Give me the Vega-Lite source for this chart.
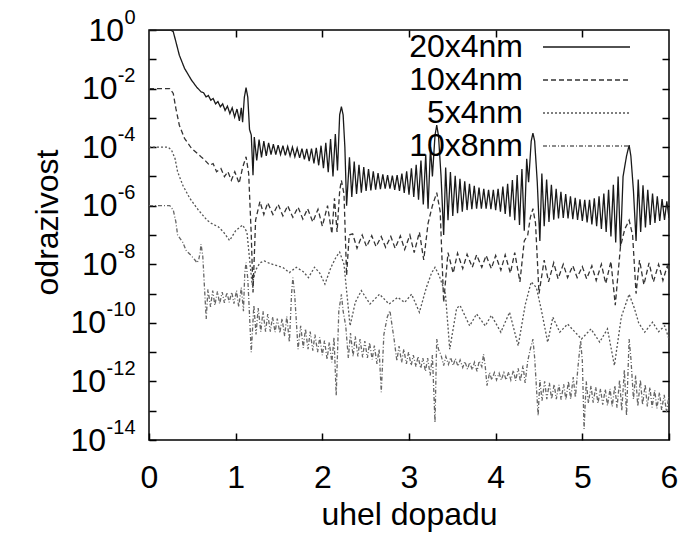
{
"$schema":"https://vega.github.io/schema/vega-lite/v6.json",
"width":520,"height":410,
"autosize":{"type":"none"},
"padding":{"left":149,"top":30,"right":20,"bottom":103},
"config":{"font":"Liberation Sans","view":{"stroke":"#000","strokeWidth":1.5},
 "legend":{"orient":"none","legendX":254,"legendY":1,"labelFontSize":32,"labelColor":"#000","labelAlign":"right","labelOffset":-79.5,"symbolType":"M-2.9,0H2.9","symbolSize":900,"symbolStrokeWidth":1.5,"symbolOffset":167.5,"rowPadding":1,"padding":0,"labelLimit":400}},
"data":{"values":[
{"s":"20x4nm","x":0,"y":1},{"s":"20x4nm","x":0.25,"y":1},{"s":"20x4nm","x":0.28,"y":0.87},{"s":"20x4nm","x":0.31,"y":0.4},{"s":"20x4nm","x":0.35,"y":0.138},{"s":"20x4nm","x":0.41,"y":0.049},{"s":"20x4nm","x":0.49,"y":0.0195},{"s":"20x4nm","x":0.55,"y":0.0112},{"s":"20x4nm","x":0.6,"y":7.8e-3},
{"s":"20x4nm","x":0.63,"y":7.2e-3},{"s":"20x4nm","x":0.658,"y":5.2e-3},{"s":"20x4nm","x":0.685,"y":5.8e-3},{"s":"20x4nm","x":0.713,"y":4.0e-3},{"s":"20x4nm","x":0.74,"y":4.6e-3},{"s":"20x4nm","x":0.768,"y":3.0e-3},{"s":"20x4nm","x":0.795,"y":3.6e-3},{"s":"20x4nm","x":0.823,"y":2.4e-3},{"s":"20x4nm","x":0.85,"y":3.0e-3},{"s":"20x4nm","x":0.878,"y":1.8e-3},{"s":"20x4nm","x":0.905,"y":2.5e-3},{"s":"20x4nm","x":0.933,"y":1.4e-3},{"s":"20x4nm","x":0.96,"y":2.2e-3},{"s":"20x4nm","x":0.988,"y":1.07e-3},{"s":"20x4nm","x":1.015,"y":2.0e-3},{"s":"20x4nm","x":1.043,"y":7.9e-4},{"s":"20x4nm","x":1.065,"y":2.2e-3},{"s":"20x4nm","x":1.08,"y":7.1e-4},{"s":"20x4nm","x":1.1,"y":5e-3},{"s":"20x4nm","x":1.12,"y":1.07e-2},{"s":"20x4nm","x":1.14,"y":5e-3},{"s":"20x4nm","x":1.16,"y":4e-4},{"s":"20x4nm","x":1.18,"y":2.6e-4},{"s":"20x4nm","x":1.2,"y":1.1e-5},
{"s":"20x4nm","x":1.215,"y":2.2e-4},{"s":"20x4nm","x":1.243,"y":3.5e-5},{"s":"20x4nm","x":1.27,"y":1.8e-4},{"s":"20x4nm","x":1.298,"y":4.5e-5},{"s":"20x4nm","x":1.325,"y":1.6e-4},{"s":"20x4nm","x":1.353,"y":5.0e-5},{"s":"20x4nm","x":1.38,"y":1.4e-4},{"s":"20x4nm","x":1.408,"y":5.6e-5},{"s":"20x4nm","x":1.435,"y":1.26e-4},{"s":"20x4nm","x":1.463,"y":5.6e-5},{"s":"20x4nm","x":1.49,"y":1.17e-4},{"s":"20x4nm","x":1.518,"y":5.6e-5},{"s":"20x4nm","x":1.545,"y":1.12e-4},{"s":"20x4nm","x":1.573,"y":5.2e-5},{"s":"20x4nm","x":1.6,"y":1.05e-4},{"s":"20x4nm","x":1.628,"y":5.0e-5},{"s":"20x4nm","x":1.655,"y":1.0e-4},{"s":"20x4nm","x":1.683,"y":4.7e-5},{"s":"20x4nm","x":1.71,"y":9.3e-5},{"s":"20x4nm","x":1.738,"y":4.3e-5},{"s":"20x4nm","x":1.765,"y":8.9e-5},{"s":"20x4nm","x":1.793,"y":3.8e-5},{"s":"20x4nm","x":1.82,"y":8.7e-5},{"s":"20x4nm","x":1.848,"y":3.3e-5},{"s":"20x4nm","x":1.875,"y":8.9e-5},{"s":"20x4nm","x":1.903,"y":2.8e-5},{"s":"20x4nm","x":1.93,"y":9.5e-5},{"s":"20x4nm","x":1.958,"y":2.4e-5},{"s":"20x4nm","x":1.985,"y":1.12e-4},{"s":"20x4nm","x":2.013,"y":1.9e-5},{"s":"20x4nm","x":2.04,"y":1.4e-4},{"s":"20x4nm","x":2.068,"y":1.4e-5},{"s":"20x4nm","x":2.095,"y":1.9e-4},{"s":"20x4nm","x":2.123,"y":1.0e-5},{"s":"20x4nm","x":2.15,"y":2.8e-4},{"s":"20x4nm","x":2.175,"y":1.6e-5},{"s":"20x4nm","x":2.2,"y":1.26e-3},{"s":"20x4nm","x":2.22,"y":2.4e-3},{"s":"20x4nm","x":2.24,"y":1.26e-3},{"s":"20x4nm","x":2.26,"y":1e-4},{"s":"20x4nm","x":2.28,"y":1e-6},
{"s":"20x4nm","x":2.313,"y":4.5e-5},{"s":"20x4nm","x":2.34,"y":2e-6},{"s":"20x4nm","x":2.368,"y":3.2e-5},{"s":"20x4nm","x":2.395,"y":2.5e-6},{"s":"20x4nm","x":2.423,"y":2.5e-5},{"s":"20x4nm","x":2.45,"y":2.8e-6},{"s":"20x4nm","x":2.478,"y":2.1e-5},{"s":"20x4nm","x":2.505,"y":3.2e-6},{"s":"20x4nm","x":2.533,"y":1.8e-5},{"s":"20x4nm","x":2.56,"y":3.3e-6},{"s":"20x4nm","x":2.588,"y":1.5e-5},{"s":"20x4nm","x":2.615,"y":3.5e-6},{"s":"20x4nm","x":2.643,"y":1.3e-5},{"s":"20x4nm","x":2.67,"y":3.7e-6},{"s":"20x4nm","x":2.698,"y":1.17e-5},{"s":"20x4nm","x":2.725,"y":3.8e-6},{"s":"20x4nm","x":2.753,"y":1.1e-5},{"s":"20x4nm","x":2.78,"y":3.8e-6},{"s":"20x4nm","x":2.808,"y":1.07e-5},{"s":"20x4nm","x":2.835,"y":3.5e-6},{"s":"20x4nm","x":2.863,"y":1.12e-5},{"s":"20x4nm","x":2.89,"y":3.2e-6},{"s":"20x4nm","x":2.918,"y":1.26e-5},{"s":"20x4nm","x":2.945,"y":2.75e-6},{"s":"20x4nm","x":2.973,"y":1.5e-5},{"s":"20x4nm","x":3.0,"y":2.4e-6},{"s":"20x4nm","x":3.028,"y":1.9e-5},{"s":"20x4nm","x":3.055,"y":2e-6},{"s":"20x4nm","x":3.083,"y":2.5e-5},{"s":"20x4nm","x":3.11,"y":1.6e-6},{"s":"20x4nm","x":3.138,"y":3.5e-5},{"s":"20x4nm","x":3.165,"y":1.1e-6},{"s":"20x4nm","x":3.193,"y":5.6e-5},{"s":"20x4nm","x":3.22,"y":7.9e-7},{"s":"20x4nm","x":3.248,"y":1e-4},{"s":"20x4nm","x":3.27,"y":1e-5},{"s":"20x4nm","x":3.3,"y":2.5e-4},{"s":"20x4nm","x":3.32,"y":5.6e-4},{"s":"20x4nm","x":3.34,"y":2.5e-4},{"s":"20x4nm","x":3.37,"y":1e-5},{"s":"20x4nm","x":3.4,"y":1e-7},
{"s":"20x4nm","x":3.423,"y":2e-5},{"s":"20x4nm","x":3.45,"y":3.2e-7},{"s":"20x4nm","x":3.478,"y":1.4e-5},{"s":"20x4nm","x":3.505,"y":4.5e-7},{"s":"20x4nm","x":3.533,"y":1.05e-5},{"s":"20x4nm","x":3.56,"y":5.6e-7},{"s":"20x4nm","x":3.588,"y":8.3e-6},{"s":"20x4nm","x":3.615,"y":6.3e-7},{"s":"20x4nm","x":3.643,"y":6.8e-6},{"s":"20x4nm","x":3.67,"y":7.1e-7},{"s":"20x4nm","x":3.698,"y":5.6e-6},{"s":"20x4nm","x":3.725,"y":7.6e-7},{"s":"20x4nm","x":3.753,"y":4.8e-6},{"s":"20x4nm","x":3.78,"y":7.9e-7},{"s":"20x4nm","x":3.808,"y":4.2e-6},{"s":"20x4nm","x":3.835,"y":7.9e-7},{"s":"20x4nm","x":3.863,"y":3.8e-6},{"s":"20x4nm","x":3.89,"y":7.9e-7},{"s":"20x4nm","x":3.918,"y":3.5e-6},{"s":"20x4nm","x":3.945,"y":7.6e-7},{"s":"20x4nm","x":3.973,"y":3.5e-6},{"s":"20x4nm","x":4.0,"y":7.1e-7},{"s":"20x4nm","x":4.028,"y":3.8e-6},{"s":"20x4nm","x":4.055,"y":6.3e-7},{"s":"20x4nm","x":4.083,"y":4.5e-6},{"s":"20x4nm","x":4.11,"y":5.2e-7},{"s":"20x4nm","x":4.138,"y":5.6e-6},{"s":"20x4nm","x":4.165,"y":4.2e-7},{"s":"20x4nm","x":4.193,"y":7.6e-6},{"s":"20x4nm","x":4.22,"y":3.2e-7},{"s":"20x4nm","x":4.248,"y":1.12e-5},{"s":"20x4nm","x":4.275,"y":2.2e-7},{"s":"20x4nm","x":4.303,"y":1.8e-5},{"s":"20x4nm","x":4.33,"y":1.4e-7},{"s":"20x4nm","x":4.358,"y":4e-5},{"s":"20x4nm","x":4.38,"y":6.3e-6},{"s":"20x4nm","x":4.41,"y":1.6e-4},{"s":"20x4nm","x":4.43,"y":3e-4},{"s":"20x4nm","x":4.45,"y":1.6e-4},{"s":"20x4nm","x":4.48,"y":6.3e-6},{"s":"20x4nm","x":4.51,"y":6.3e-8},
{"s":"20x4nm","x":4.533,"y":1.26e-5},{"s":"20x4nm","x":4.56,"y":2e-7},{"s":"20x4nm","x":4.588,"y":7.9e-6},{"s":"20x4nm","x":4.615,"y":2.8e-7},{"s":"20x4nm","x":4.643,"y":5.2e-6},{"s":"20x4nm","x":4.67,"y":3.3e-7},{"s":"20x4nm","x":4.698,"y":3.8e-6},{"s":"20x4nm","x":4.725,"y":3.7e-7},{"s":"20x4nm","x":4.753,"y":3e-6},{"s":"20x4nm","x":4.78,"y":3.8e-7},{"s":"20x4nm","x":4.808,"y":2.5e-6},{"s":"20x4nm","x":4.835,"y":3.7e-7},{"s":"20x4nm","x":4.863,"y":2.1e-6},{"s":"20x4nm","x":4.89,"y":3.5e-7},{"s":"20x4nm","x":4.918,"y":1.86e-6},{"s":"20x4nm","x":4.945,"y":3.3e-7},{"s":"20x4nm","x":4.973,"y":1.66e-6},{"s":"20x4nm","x":5.0,"y":3e-7},{"s":"20x4nm","x":5.028,"y":1.6e-6},{"s":"20x4nm","x":5.055,"y":2.7e-7},{"s":"20x4nm","x":5.083,"y":1.6e-6},{"s":"20x4nm","x":5.11,"y":2.3e-7},{"s":"20x4nm","x":5.138,"y":1.8e-6},{"s":"20x4nm","x":5.165,"y":2e-7},{"s":"20x4nm","x":5.193,"y":2.1e-6},{"s":"20x4nm","x":5.22,"y":1.6e-7},{"s":"20x4nm","x":5.248,"y":2.6e-6},{"s":"20x4nm","x":5.275,"y":1.26e-7},{"s":"20x4nm","x":5.303,"y":3.5e-6},{"s":"20x4nm","x":5.33,"y":8.9e-8},{"s":"20x4nm","x":5.358,"y":5.2e-6},{"s":"20x4nm","x":5.385,"y":5.6e-8},{"s":"20x4nm","x":5.413,"y":1e-5},{"s":"20x4nm","x":5.44,"y":4e-8},{"s":"20x4nm","x":5.47,"y":1e-5},{"s":"20x4nm","x":5.51,"y":5e-5},{"s":"20x4nm","x":5.54,"y":1.17e-4},{"s":"20x4nm","x":5.56,"y":5e-5},{"s":"20x4nm","x":5.59,"y":3.2e-6},{"s":"20x4nm","x":5.62,"y":6.3e-8},
{"s":"20x4nm","x":5.645,"y":7.9e-6},{"s":"20x4nm","x":5.673,"y":1.26e-7},{"s":"20x4nm","x":5.7,"y":5e-6},{"s":"20x4nm","x":5.728,"y":1.8e-7},{"s":"20x4nm","x":5.755,"y":3.5e-6},{"s":"20x4nm","x":5.783,"y":2.2e-7},{"s":"20x4nm","x":5.81,"y":2.6e-6},{"s":"20x4nm","x":5.838,"y":2.6e-7},{"s":"20x4nm","x":5.865,"y":2.1e-6},{"s":"20x4nm","x":5.893,"y":3e-7},{"s":"20x4nm","x":5.92,"y":1.7e-6},{"s":"20x4nm","x":5.948,"y":3.3e-7},{"s":"20x4nm","x":5.975,"y":1.4e-6},{"s":"20x4nm","x":6.0,"y":3.8e-7},

{"s":"10x4nm","x":0,"y":1e-2},{"s":"10x4nm","x":0.24,"y":1e-2},{"s":"10x4nm","x":0.28,"y":6.8e-3},{"s":"10x4nm","x":0.31,"y":2.1e-3},{"s":"10x4nm","x":0.35,"y":5.6e-4},{"s":"10x4nm","x":0.41,"y":2e-4},{"s":"10x4nm","x":0.49,"y":9.1e-5},{"s":"10x4nm","x":0.6,"y":4.7e-5},{"s":"10x4nm","x":0.62,"y":4.2e-5},{"s":"10x4nm","x":0.66,"y":3.2e-5},{"s":"10x4nm","x":0.7,"y":2.4e-5},{"s":"10x4nm","x":0.74,"y":2.75e-5},{"s":"10x4nm","x":0.78,"y":1.45e-5},{"s":"10x4nm","x":0.83,"y":1.86e-5},{"s":"10x4nm","x":0.87,"y":9.8e-6},{"s":"10x4nm","x":0.91,"y":1.45e-5},{"s":"10x4nm","x":0.95,"y":7.4e-6},{"s":"10x4nm","x":0.99,"y":1.45e-5},{"s":"10x4nm","x":1.04,"y":5.8e-6},{"s":"10x4nm","x":1.08,"y":2e-5},{"s":"10x4nm","x":1.12,"y":4.7e-5},{"s":"10x4nm","x":1.15,"y":1.26e-5},{"s":"10x4nm","x":1.18,"y":1e-7},{"s":"10x4nm","x":1.2,"y":1.1e-9},{"s":"10x4nm","x":1.23,"y":3.2e-7},
{"s":"10x4nm","x":1.28,"y":1.4e-6},{"s":"10x4nm","x":1.325,"y":5e-7},{"s":"10x4nm","x":1.37,"y":1.26e-6},{"s":"10x4nm","x":1.43,"y":5e-7},{"s":"10x4nm","x":1.49,"y":1.12e-6},{"s":"10x4nm","x":1.545,"y":4.5e-7},{"s":"10x4nm","x":1.6,"y":1e-6},{"s":"10x4nm","x":1.66,"y":4e-7},{"s":"10x4nm","x":1.72,"y":8.9e-7},{"s":"10x4nm","x":1.775,"y":3.5e-7},{"s":"10x4nm","x":1.83,"y":7.9e-7},{"s":"10x4nm","x":1.89,"y":2.8e-7},{"s":"10x4nm","x":1.95,"y":7.6e-7},{"s":"10x4nm","x":2.0,"y":2e-7},{"s":"10x4nm","x":2.06,"y":1e-6},{"s":"10x4nm","x":2.11,"y":1.1e-7},{"s":"10x4nm","x":2.14,"y":1.8e-6},{"s":"10x4nm","x":2.17,"y":1.26e-7},{"s":"10x4nm","x":2.2,"y":3.2e-6},{"s":"10x4nm","x":2.22,"y":7.4e-6},{"s":"10x4nm","x":2.25,"y":2.5e-6},{"s":"10x4nm","x":2.28,"y":4.2e-9},{"s":"10x4nm","x":2.31,"y":1e-7},
{"s":"10x4nm","x":2.35,"y":1.1e-7},{"s":"10x4nm","x":2.4,"y":3.5e-8},{"s":"10x4nm","x":2.46,"y":1e-7},{"s":"10x4nm","x":2.51,"y":4e-8},{"s":"10x4nm","x":2.57,"y":9.5e-8},{"s":"10x4nm","x":2.62,"y":4e-8},{"s":"10x4nm","x":2.68,"y":8.9e-8},{"s":"10x4nm","x":2.73,"y":3.8e-8},{"s":"10x4nm","x":2.79,"y":8.9e-8},{"s":"10x4nm","x":2.84,"y":3.5e-8},{"s":"10x4nm","x":2.9,"y":9.3e-8},{"s":"10x4nm","x":2.95,"y":3.2e-8},{"s":"10x4nm","x":3.01,"y":1e-7},{"s":"10x4nm","x":3.06,"y":2.5e-8},{"s":"10x4nm","x":3.12,"y":1.26e-7},{"s":"10x4nm","x":3.17,"y":1.4e-8},{"s":"10x4nm","x":3.22,"y":2.5e-7},{"s":"10x4nm","x":3.27,"y":1e-6},{"s":"10x4nm","x":3.32,"y":2.8e-6},{"s":"10x4nm","x":3.36,"y":6.3e-7},{"s":"10x4nm","x":3.4,"y":5e-10},
{"s":"10x4nm","x":3.45,"y":2.5e-8},{"s":"10x4nm","x":3.51,"y":5e-9},{"s":"10x4nm","x":3.56,"y":2.4e-8},{"s":"10x4nm","x":3.62,"y":7.1e-9},{"s":"10x4nm","x":3.67,"y":2.2e-8},{"s":"10x4nm","x":3.73,"y":7.9e-9},{"s":"10x4nm","x":3.78,"y":2.1e-8},{"s":"10x4nm","x":3.84,"y":7.9e-9},{"s":"10x4nm","x":3.89,"y":2e-8},{"s":"10x4nm","x":3.95,"y":7.1e-9},{"s":"10x4nm","x":4.0,"y":2e-8},{"s":"10x4nm","x":4.06,"y":6.3e-9},{"s":"10x4nm","x":4.11,"y":2.1e-8},{"s":"10x4nm","x":4.17,"y":5e-9},{"s":"10x4nm","x":4.22,"y":2.5e-8},{"s":"10x4nm","x":4.28,"y":2.5e-9},{"s":"10x4nm","x":4.33,"y":6.3e-8},{"s":"10x4nm","x":4.37,"y":1e-7},{"s":"10x4nm","x":4.4,"y":4e-7},{"s":"10x4nm","x":4.43,"y":7.9e-7},{"s":"10x4nm","x":4.46,"y":2.5e-7},{"s":"10x4nm","x":4.5,"y":1e-9},
{"s":"10x4nm","x":4.56,"y":1.4e-8},{"s":"10x4nm","x":4.61,"y":2.5e-9},{"s":"10x4nm","x":4.67,"y":1.12e-8},{"s":"10x4nm","x":4.72,"y":3.2e-9},{"s":"10x4nm","x":4.78,"y":1e-8},{"s":"10x4nm","x":4.83,"y":3.5e-9},{"s":"10x4nm","x":4.89,"y":8.9e-9},{"s":"10x4nm","x":4.94,"y":3.5e-9},{"s":"10x4nm","x":5.0,"y":8.3e-9},{"s":"10x4nm","x":5.05,"y":3.2e-9},{"s":"10x4nm","x":5.11,"y":8.9e-9},{"s":"10x4nm","x":5.16,"y":2.8e-9},{"s":"10x4nm","x":5.22,"y":1e-8},{"s":"10x4nm","x":5.27,"y":2.2e-9},{"s":"10x4nm","x":5.33,"y":1.26e-8},{"s":"10x4nm","x":5.38,"y":4e-10},{"s":"10x4nm","x":5.44,"y":4e-8},{"s":"10x4nm","x":5.49,"y":1.6e-7},{"s":"10x4nm","x":5.54,"y":3.2e-7},{"s":"10x4nm","x":5.58,"y":1e-7},{"s":"10x4nm","x":5.62,"y":1e-9},
{"s":"10x4nm","x":5.66,"y":1.4e-8},{"s":"10x4nm","x":5.71,"y":2e-9},{"s":"10x4nm","x":5.77,"y":1.12e-8},{"s":"10x4nm","x":5.82,"y":2.5e-9},{"s":"10x4nm","x":5.88,"y":1e-8},{"s":"10x4nm","x":5.93,"y":2.8e-9},{"s":"10x4nm","x":5.98,"y":8.9e-9},{"s":"10x4nm","x":6.0,"y":5e-9},

{"s":"5x4nm","x":0,"y":1e-4},{"s":"5x4nm","x":0.22,"y":1e-4},{"s":"5x4nm","x":0.26,"y":7.9e-5},{"s":"5x4nm","x":0.3,"y":4.1e-5},{"s":"5x4nm","x":0.33,"y":1.45e-5},{"s":"5x4nm","x":0.39,"y":5e-6},{"s":"5x4nm","x":0.47,"y":1.8e-6},{"s":"5x4nm","x":0.57,"y":7.1e-7},{"s":"5x4nm","x":0.67,"y":3.2e-7},{"s":"5x4nm","x":0.72,"y":2.5e-7},{"s":"5x4nm","x":0.8,"y":1.9e-7},{"s":"5x4nm","x":0.86,"y":1.26e-7},{"s":"5x4nm","x":0.93,"y":6.5e-8},{"s":"5x4nm","x":1.0,"y":1.4e-7},{"s":"5x4nm","x":1.08,"y":2.2e-7},{"s":"5x4nm","x":1.13,"y":1.26e-7},{"s":"5x4nm","x":1.19,"y":2e-9},{"s":"5x4nm","x":1.23,"y":6.3e-9},{"s":"5x4nm","x":1.28,"y":1.12e-8},{"s":"5x4nm","x":1.33,"y":1.3e-8},{"s":"5x4nm","x":1.4,"y":1.05e-8},{"s":"5x4nm","x":1.48,"y":8.9e-9},{"s":"5x4nm","x":1.55,"y":7.6e-9},{"s":"5x4nm","x":1.62,"y":5.2e-9},{"s":"5x4nm","x":1.7,"y":7.9e-9},{"s":"5x4nm","x":1.78,"y":5.6e-9},{"s":"5x4nm","x":1.84,"y":3.5e-9},{"s":"5x4nm","x":1.91,"y":7.9e-9},{"s":"5x4nm","x":1.97,"y":5e-9},{"s":"5x4nm","x":2.03,"y":2.1e-9},{"s":"5x4nm","x":2.1,"y":7.9e-9},{"s":"5x4nm","x":2.16,"y":1.8e-8},{"s":"5x4nm","x":2.2,"y":2.6e-8},{"s":"5x4nm","x":2.25,"y":1e-8},{"s":"5x4nm","x":2.32,"y":7.9e-11},{"s":"5x4nm","x":2.38,"y":5e-10},{"s":"5x4nm","x":2.45,"y":1.26e-9},{"s":"5x4nm","x":2.55,"y":4.4e-10},{"s":"5x4nm","x":2.66,"y":9.5e-10},{"s":"5x4nm","x":2.77,"y":4.4e-10},{"s":"5x4nm","x":2.87,"y":7.4e-10},{"s":"5x4nm","x":2.95,"y":5e-10},{"s":"5x4nm","x":3.03,"y":9.5e-10},{"s":"5x4nm","x":3.12,"y":2.3e-10},{"s":"5x4nm","x":3.2,"y":1.6e-9},{"s":"5x4nm","x":3.26,"y":5e-9},{"s":"5x4nm","x":3.3,"y":7.9e-9},{"s":"5x4nm","x":3.35,"y":4e-9},{"s":"5x4nm","x":3.42,"y":1e-9},{"s":"5x4nm","x":3.47,"y":1.26e-11},{"s":"5x4nm","x":3.55,"y":3.2e-10},{"s":"5x4nm","x":3.59,"y":3.9e-10},{"s":"5x4nm","x":3.7,"y":7.9e-11},{"s":"5x4nm","x":3.78,"y":2e-10},{"s":"5x4nm","x":3.88,"y":7.9e-11},{"s":"5x4nm","x":3.95,"y":1.8e-10},{"s":"5x4nm","x":4.06,"y":4.8e-11},{"s":"5x4nm","x":4.16,"y":2.3e-10},{"s":"5x4nm","x":4.26,"y":1.66e-11},{"s":"5x4nm","x":4.34,"y":4e-10},{"s":"5x4nm","x":4.41,"y":2.5e-9},{"s":"5x4nm","x":4.47,"y":1.6e-9},{"s":"5x4nm","x":4.53,"y":2.5e-10},{"s":"5x4nm","x":4.6,"y":2.2e-11},{"s":"5x4nm","x":4.66,"y":1.55e-10},{"s":"5x4nm","x":4.74,"y":4.8e-11},{"s":"5x4nm","x":4.83,"y":9.1e-11},{"s":"5x4nm","x":4.99,"y":2.8e-11},{"s":"5x4nm","x":5.1,"y":6.2e-11},{"s":"5x4nm","x":5.2,"y":2.2e-11},{"s":"5x4nm","x":5.29,"y":6.2e-11},{"s":"5x4nm","x":5.37,"y":3.5e-12},{"s":"5x4nm","x":5.45,"y":1.6e-10},{"s":"5x4nm","x":5.54,"y":9.5e-10},{"s":"5x4nm","x":5.6,"y":3.2e-10},{"s":"5x4nm","x":5.65,"y":1e-10},{"s":"5x4nm","x":5.72,"y":4.8e-11},{"s":"5x4nm","x":5.81,"y":1.05e-10},{"s":"5x4nm","x":5.88,"y":5e-11},{"s":"5x4nm","x":5.95,"y":7.9e-11},{"s":"5x4nm","x":6.0,"y":2.8e-11},

{"s":"10x8nm","x":0,"y":1e-6},{"s":"10x8nm","x":0.24,"y":1e-6},{"s":"10x8nm","x":0.28,"y":7.1e-7},{"s":"10x8nm","x":0.31,"y":2.8e-7},{"s":"10x8nm","x":0.33,"y":1e-7},{"s":"10x8nm","x":0.39,"y":5.6e-8},{"s":"10x8nm","x":0.43,"y":2.9e-8},{"s":"10x8nm","x":0.49,"y":1.95e-8},{"s":"10x8nm","x":0.53,"y":1.4e-8},{"s":"10x8nm","x":0.555,"y":1.12e-8},{"s":"10x8nm","x":0.575,"y":1.5e-8},{"s":"10x8nm","x":0.59,"y":2.5e-8},{"s":"10x8nm","x":0.6,"y":4.9e-8},{"s":"10x8nm","x":0.62,"y":2e-8},{"s":"10x8nm","x":0.66,"y":1.35e-10},
{"s":"10x8nm","x":0.68,"y":1.4e-9},{"s":"10x8nm","x":0.71,"y":3.5e-10},{"s":"10x8nm","x":0.735,"y":1.26e-9},{"s":"10x8nm","x":0.76,"y":4e-10},{"s":"10x8nm","x":0.79,"y":1.2e-9},{"s":"10x8nm","x":0.815,"y":4.5e-10},{"s":"10x8nm","x":0.845,"y":1.12e-9},{"s":"10x8nm","x":0.87,"y":4.8e-10},{"s":"10x8nm","x":0.9,"y":1.1e-9},{"s":"10x8nm","x":0.925,"y":5e-10},{"s":"10x8nm","x":0.955,"y":1.12e-9},{"s":"10x8nm","x":0.98,"y":4.5e-10},{"s":"10x8nm","x":1.01,"y":1.26e-9},{"s":"10x8nm","x":1.035,"y":3.5e-10},{"s":"10x8nm","x":1.065,"y":1.6e-9},{"s":"10x8nm","x":1.09,"y":2.5e-10},{"s":"10x8nm","x":1.105,"y":5e-9},{"s":"10x8nm","x":1.12,"y":1.15e-8},{"s":"10x8nm","x":1.14,"y":3.2e-9},{"s":"10x8nm","x":1.18,"y":1e-11},
{"s":"10x8nm","x":1.21,"y":4e-10},{"s":"10x8nm","x":1.235,"y":4e-11},{"s":"10x8nm","x":1.26,"y":3.2e-10},{"s":"10x8nm","x":1.29,"y":5e-11},{"s":"10x8nm","x":1.315,"y":2.5e-10},{"s":"10x8nm","x":1.345,"y":5e-11},{"s":"10x8nm","x":1.37,"y":2e-10},{"s":"10x8nm","x":1.4,"y":5e-11},{"s":"10x8nm","x":1.425,"y":1.6e-10},{"s":"10x8nm","x":1.455,"y":4.8e-11},{"s":"10x8nm","x":1.48,"y":1.4e-10},{"s":"10x8nm","x":1.51,"y":4.5e-11},{"s":"10x8nm","x":1.535,"y":1.4e-10},{"s":"10x8nm","x":1.565,"y":3.5e-11},{"s":"10x8nm","x":1.59,"y":1.66e-10},{"s":"10x8nm","x":1.62,"y":2.2e-11},{"s":"10x8nm","x":1.645,"y":1e-9},{"s":"10x8nm","x":1.66,"y":3.5e-9},{"s":"10x8nm","x":1.68,"y":1e-9},{"s":"10x8nm","x":1.72,"y":1.26e-11},
{"s":"10x8nm","x":1.75,"y":7.9e-11},{"s":"10x8nm","x":1.78,"y":1.4e-11},{"s":"10x8nm","x":1.805,"y":6.3e-11},{"s":"10x8nm","x":1.835,"y":1.26e-11},{"s":"10x8nm","x":1.86,"y":5e-11},{"s":"10x8nm","x":1.89,"y":1.12e-11},{"s":"10x8nm","x":1.915,"y":4e-11},{"s":"10x8nm","x":1.945,"y":1e-11},{"s":"10x8nm","x":1.97,"y":3.2e-11},{"s":"10x8nm","x":2.0,"y":7.9e-12},{"s":"10x8nm","x":2.025,"y":2.5e-11},{"s":"10x8nm","x":2.055,"y":5.6e-12},{"s":"10x8nm","x":2.08,"y":2.2e-11},{"s":"10x8nm","x":2.11,"y":4.5e-12},{"s":"10x8nm","x":2.135,"y":3.2e-11},{"s":"10x8nm","x":2.16,"y":3.3e-13},{"s":"10x8nm","x":2.19,"y":2.5e-10},{"s":"10x8nm","x":2.22,"y":9.5e-10},{"s":"10x8nm","x":2.24,"y":2.5e-10},{"s":"10x8nm","x":2.27,"y":7.9e-11},
{"s":"10x8nm","x":2.3,"y":6.3e-12},{"s":"10x8nm","x":2.325,"y":4.5e-11},{"s":"10x8nm","x":2.355,"y":7.1e-12},{"s":"10x8nm","x":2.38,"y":3.5e-11},{"s":"10x8nm","x":2.41,"y":7.1e-12},{"s":"10x8nm","x":2.435,"y":2.8e-11},{"s":"10x8nm","x":2.465,"y":6.6e-12},{"s":"10x8nm","x":2.49,"y":2.4e-11},{"s":"10x8nm","x":2.52,"y":6.3e-12},{"s":"10x8nm","x":2.545,"y":2.1e-11},{"s":"10x8nm","x":2.575,"y":5.6e-12},{"s":"10x8nm","x":2.6,"y":1.66e-11},{"s":"10x8nm","x":2.63,"y":4e-12},{"s":"10x8nm","x":2.655,"y":1.26e-11},{"s":"10x8nm","x":2.68,"y":4.3e-13},{"s":"10x8nm","x":2.71,"y":4e-11},{"s":"10x8nm","x":2.75,"y":1.6e-10},{"s":"10x8nm","x":2.78,"y":2.6e-10},{"s":"10x8nm","x":2.8,"y":1e-10},{"s":"10x8nm","x":2.83,"y":2.5e-11},
{"s":"10x8nm","x":2.86,"y":5e-12},{"s":"10x8nm","x":2.885,"y":1.6e-11},{"s":"10x8nm","x":2.915,"y":4.5e-12},{"s":"10x8nm","x":2.94,"y":1.26e-11},{"s":"10x8nm","x":2.97,"y":4e-12},{"s":"10x8nm","x":2.995,"y":1e-11},{"s":"10x8nm","x":3.025,"y":3.5e-12},{"s":"10x8nm","x":3.05,"y":7.9e-12},{"s":"10x8nm","x":3.08,"y":3.2e-12},{"s":"10x8nm","x":3.105,"y":7.1e-12},{"s":"10x8nm","x":3.135,"y":2.8e-12},{"s":"10x8nm","x":3.16,"y":6.3e-12},{"s":"10x8nm","x":3.19,"y":2.2e-12},{"s":"10x8nm","x":3.215,"y":6.3e-12},{"s":"10x8nm","x":3.245,"y":1.6e-12},{"s":"10x8nm","x":3.27,"y":7.9e-12},{"s":"10x8nm","x":3.3,"y":4e-14},{"s":"10x8nm","x":3.32,"y":2.8e-11},{"s":"10x8nm","x":3.34,"y":1.26e-11},{"s":"10x8nm","x":3.37,"y":7.9e-12},
{"s":"10x8nm","x":3.4,"y":3.5e-12},{"s":"10x8nm","x":3.425,"y":7.1e-12},{"s":"10x8nm","x":3.455,"y":3.8e-12},{"s":"10x8nm","x":3.48,"y":6.6e-12},{"s":"10x8nm","x":3.51,"y":3.5e-12},{"s":"10x8nm","x":3.535,"y":6e-12},{"s":"10x8nm","x":3.565,"y":3.3e-12},{"s":"10x8nm","x":3.59,"y":5.4e-12},{"s":"10x8nm","x":3.62,"y":3e-12},{"s":"10x8nm","x":3.645,"y":4.8e-12},{"s":"10x8nm","x":3.675,"y":2.6e-12},{"s":"10x8nm","x":3.7,"y":4.5e-12},{"s":"10x8nm","x":3.73,"y":2.5e-12},{"s":"10x8nm","x":3.755,"y":4.5e-12},{"s":"10x8nm","x":3.785,"y":2.2e-12},{"s":"10x8nm","x":3.81,"y":5e-12},{"s":"10x8nm","x":3.84,"y":3.2e-12},{"s":"10x8nm","x":3.86,"y":8.5e-12},{"s":"10x8nm","x":3.88,"y":3.2e-12},{"s":"10x8nm","x":3.9,"y":7.2e-13},
{"s":"10x8nm","x":3.93,"y":2e-12},{"s":"10x8nm","x":3.955,"y":1.12e-12},{"s":"10x8nm","x":3.985,"y":2e-12},{"s":"10x8nm","x":4.01,"y":1.12e-12},{"s":"10x8nm","x":4.04,"y":1.9e-12},{"s":"10x8nm","x":4.065,"y":1.12e-12},{"s":"10x8nm","x":4.095,"y":2e-12},{"s":"10x8nm","x":4.12,"y":1.12e-12},{"s":"10x8nm","x":4.15,"y":2.1e-12},{"s":"10x8nm","x":4.175,"y":1.12e-12},{"s":"10x8nm","x":4.205,"y":2.4e-12},{"s":"10x8nm","x":4.23,"y":1.05e-12},{"s":"10x8nm","x":4.26,"y":2.8e-12},{"s":"10x8nm","x":4.285,"y":1e-12},{"s":"10x8nm","x":4.315,"y":3.5e-12},{"s":"10x8nm","x":4.34,"y":8.9e-13},{"s":"10x8nm","x":4.37,"y":5e-12},{"s":"10x8nm","x":4.4,"y":1.26e-11},{"s":"10x8nm","x":4.43,"y":2.8e-11},{"s":"10x8nm","x":4.45,"y":6.3e-12},{"s":"10x8nm","x":4.49,"y":6.8e-14},
{"s":"10x8nm","x":4.51,"y":1.12e-12},{"s":"10x8nm","x":4.535,"y":2.2e-13},{"s":"10x8nm","x":4.565,"y":1e-12},{"s":"10x8nm","x":4.59,"y":2.5e-13},{"s":"10x8nm","x":4.62,"y":8.9e-13},{"s":"10x8nm","x":4.645,"y":2.5e-13},{"s":"10x8nm","x":4.675,"y":7.9e-13},{"s":"10x8nm","x":4.7,"y":2.5e-13},{"s":"10x8nm","x":4.73,"y":7.6e-13},{"s":"10x8nm","x":4.755,"y":2.4e-13},{"s":"10x8nm","x":4.785,"y":7.9e-13},{"s":"10x8nm","x":4.81,"y":2.4e-13},{"s":"10x8nm","x":4.84,"y":1e-12},{"s":"10x8nm","x":4.865,"y":2.5e-13},{"s":"10x8nm","x":4.895,"y":1.4e-12},{"s":"10x8nm","x":4.92,"y":2.8e-13},{"s":"10x8nm","x":4.95,"y":3.2e-12},{"s":"10x8nm","x":4.98,"y":2.5e-11},{"s":"10x8nm","x":5.0,"y":5e-12},{"s":"10x8nm","x":5.02,"y":2.4e-14},
{"s":"10x8nm","x":5.045,"y":1e-12},{"s":"10x8nm","x":5.07,"y":1.8e-13},{"s":"10x8nm","x":5.1,"y":7.1e-13},{"s":"10x8nm","x":5.125,"y":1.9e-13},{"s":"10x8nm","x":5.155,"y":6.3e-13},{"s":"10x8nm","x":5.18,"y":1.8e-13},{"s":"10x8nm","x":5.21,"y":5.6e-13},{"s":"10x8nm","x":5.235,"y":1.6e-13},{"s":"10x8nm","x":5.265,"y":5.4e-13},{"s":"10x8nm","x":5.29,"y":1.5e-13},{"s":"10x8nm","x":5.32,"y":5.6e-13},{"s":"10x8nm","x":5.345,"y":1.4e-13},{"s":"10x8nm","x":5.375,"y":7.1e-13},{"s":"10x8nm","x":5.4,"y":1.26e-13},{"s":"10x8nm","x":5.43,"y":1.12e-12},{"s":"10x8nm","x":5.455,"y":1e-13},{"s":"10x8nm","x":5.485,"y":2.5e-12},{"s":"10x8nm","x":5.51,"y":6.8e-14},{"s":"10x8nm","x":5.54,"y":2.8e-11},{"s":"10x8nm","x":5.56,"y":6.3e-12},{"s":"10x8nm","x":5.59,"y":2.5e-13},
{"s":"10x8nm","x":5.615,"y":1.6e-12},{"s":"10x8nm","x":5.64,"y":1.4e-13},{"s":"10x8nm","x":5.67,"y":1.12e-12},{"s":"10x8nm","x":5.695,"y":1.6e-13},{"s":"10x8nm","x":5.725,"y":7.9e-13},{"s":"10x8nm","x":5.75,"y":1.4e-13},{"s":"10x8nm","x":5.78,"y":6.3e-13},{"s":"10x8nm","x":5.805,"y":1.3e-13},{"s":"10x8nm","x":5.835,"y":5e-13},{"s":"10x8nm","x":5.86,"y":1.2e-13},{"s":"10x8nm","x":5.89,"y":4.2e-13},{"s":"10x8nm","x":5.915,"y":1.07e-13},{"s":"10x8nm","x":5.945,"y":3.5e-13},{"s":"10x8nm","x":5.97,"y":8.9e-14},{"s":"10x8nm","x":6.0,"y":3.2e-13}
]},
"layer":[
{"mark":{"type":"line","strokeWidth":1.3,"clip":true},
 "encoding":{
  "x":{"field":"x","type":"quantitative","scale":{"domain":[0,6],"nice":false},
   "axis":{"values":[0,1,2,3,4,5,6],"tickSize":-7,"tickWidth":1.5,"tickColor":"#000","domain":false,"grid":false,"labelFontSize":32,"labelColor":"#000","labelFlush":false,"labelPadding":29,"title":"uhel dopadu","titleFontSize":32,"titleFontWeight":"normal","titleColor":"#000","titleBaseline":"alphabetic","titleY":84}},
  "y":{"field":"y","type":"quantitative","scale":{"type":"log","domain":[1e-14,1],"nice":false},
   "axis":{"values":[1,0.1,0.01,0.001,0.0001,1e-5,1e-6,1e-7,1e-8,1e-9,1e-10,1e-11,1e-12,1e-13,1e-14],"tickSize":-7,"tickWidth":1.5,"tickColor":"#000","domain":false,"grid":false,"labelFontSize":32,"labelColor":"#000","labelAlign":"right",
    "labelPadding":{"condition":[{"test":"datum.value >= 1","value":32.5},{"test":"datum.value < 1e-9","value":50.5}],"value":39},
    "labelExpr":"round(-log(datum.value)/LN10) % 2 == 0 ? '10' : ''","title":"odrazivost","titleFontSize":32,"titleFontWeight":"normal","titleColor":"#000","titleAngle":-90,"titleBaseline":"alphabetic","titleAlign":"center","titleX":-92,"titleY":192}},
  "color":{"field":"s","type":"nominal","scale":{"domain":["20x4nm","10x4nm","5x4nm","10x8nm"],"range":["#1a1a1a","#333333","#555555","#666666"]},"legend":{"title":null}},
  "strokeDash":{"field":"s","type":"nominal","scale":{"domain":["20x4nm","10x4nm","5x4nm","10x8nm"],"range":[[1,0],[5,3],[2,2],[4,2,1,2]]},"legend":{"title":null}}
 }},
{"mark":{"type":"line","opacity":0},
 "encoding":{
  "x":{"field":"x","type":"quantitative","axis":{"orient":"top","values":[1,2,3,4,5],"tickSize":-7,"tickWidth":1.5,"tickColor":"#000","labels":false,"domain":false,"grid":false,"title":null}},
  "y":{"field":"y","type":"quantitative","axis":{"orient":"right","values":[0.1,0.01,0.001,0.0001,1e-5,1e-6,1e-7,1e-8,1e-9,1e-10,1e-11,1e-12,1e-13],"tickSize":-7,"tickWidth":1.5,"tickColor":"#000","labels":false,"domain":false,"grid":false,"title":null}},
  "detail":{"field":"s"}
 }},
{"mark":{"type":"line","opacity":0},
 "encoding":{
  "x":{"field":"x","type":"quantitative","axis":null},
  "y":{"field":"y","type":"quantitative","axis":{"orient":"left","values":[1,0.01,0.0001,1e-6,1e-8,1e-10,1e-12,1e-14],"ticks":false,"domain":false,"grid":false,"labelFontSize":20,"labelColor":"#000","labelPadding":14,"labelAlign":"right","labelBaseline":"middle","labelOffset":-13,"labelExpr":"['0','','-2','','-4','','-6','','-8','','-10','','-12','','-14'][round(-log(datum.value)/LN10)]","title":null}},
  "detail":{"field":"s"}
 }}
],
"resolve":{"axis":{"x":"independent","y":"independent"}}
}
